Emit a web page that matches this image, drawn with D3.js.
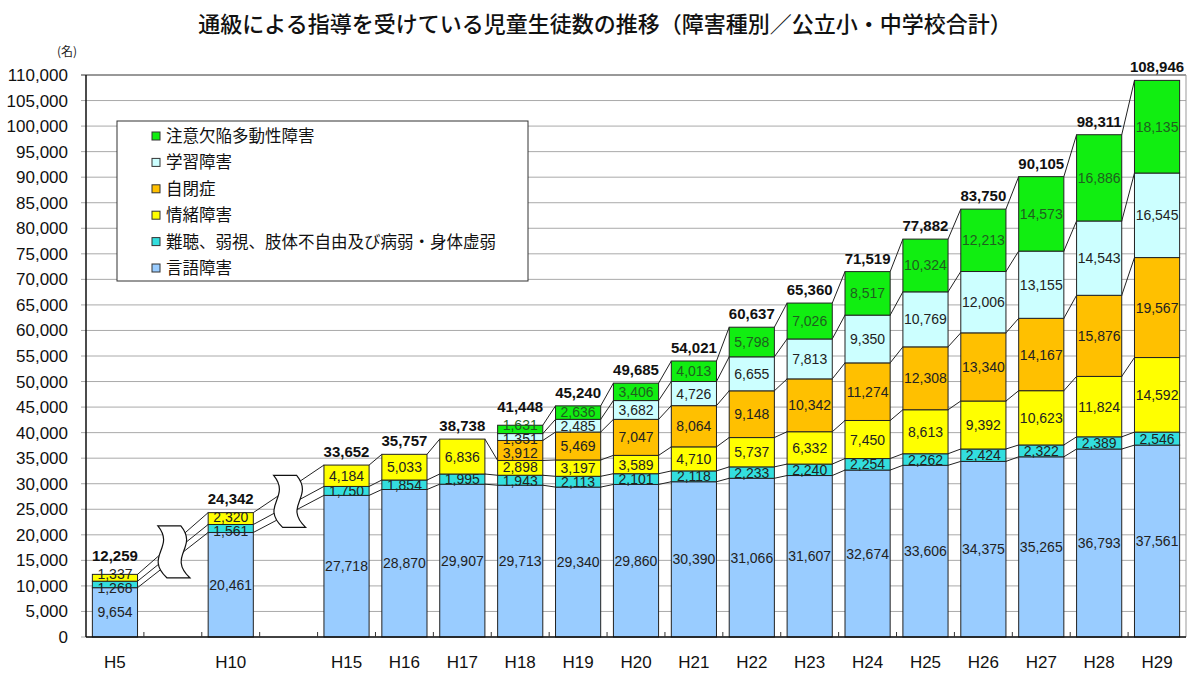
<!DOCTYPE html>
<html>
<head>
<meta charset="utf-8">
<title>通級による指導を受けている児童生徒数の推移</title>
<script src="https://d3js.org/d3.v7.min.js"></script>
<style>
  body { margin: 0; background: #fff; }
  text { font-family: "Liberation Sans", Arial, sans-serif; }
  .jp { font-family: "Noto Sans CJK JP", "Noto Sans", sans-serif; }
</style>
</head>
<body>
<svg id="chart" width="1200" height="680"></svg>
<script>
// x slots: gaps between H5, H10 and H15 are empty slots
var slots = ["H5", "gap1", "H10", "gap2", "H15", "H16", "H17", "H18", "H19", "H20",
             "H21", "H22", "H23", "H24", "H25", "H26", "H27", "H28", "H29"]
var years = ["H5", "H10", "H15", "H16", "H17", "H18", "H19", "H20",
             "H21", "H22", "H23", "H24", "H25", "H26", "H27", "H28", "H29"]

var speech    = [9654, 20461, 27718, 28870, 29907, 29713, 29340, 29860, 30390, 31066, 31607, 32674, 33606, 34375, 35265, 36793, 37561]
var hearing   = [1268, 1561, 1750, 1854, 1995, 1943, 2113, 2101, 2118, 2233, 2240, 2254, 2262, 2424, 2322, 2389, 2546]
var emotional = [1337, 2320, 4184, 5033, 6836, 2898, 3197, 3589, 4710, 5737, 6332, 7450, 8613, 9392, 10623, 11824, 14592]
var autism    = [null, null, null, null, null, 3912, 5469, 7047, 8064, 9148, 10342, 11274, 12308, 13340, 14167, 15876, 19567]
var ld        = [null, null, null, null, null, 1351, 2485, 3682, 4726, 6655, 7813, 9350, 10769, 12006, 13155, 14543, 16545]
var adhd      = [null, null, null, null, null, 1631, 2636, 3406, 4013, 5798, 7026, 8517, 10324, 12213, 14573, 16886, 18135]

// bottom to top
var seriesNames = ["言語障害", "難聴、弱視、肢体不自由及び病弱・身体虚弱", "情緒障害", "自閉症", "学習障害", "注意欠陥多動性障害"]
var seriesData = [speech, hearing, emotional, autism, ld, adhd]
var colors = ["#99ccff", "#33dede", "#ffff00", "#ffc000", "#ccffff", "#11ee11"]
var labelColors = ["#222", "#222", "#222", "#222", "#222", "#1f5f1f"]

var yTicks = d3.range(0, 110001, 5000)

var svg = d3.select("#chart")
var margin = {left: 86, right: 1186, top: 75, bottom: 637}

var x = d3.scaleBand().domain(slots).range([margin.left, margin.right])
  .paddingInner(0.22).paddingOuter(0.11)
var y = d3.scaleLinear().domain([0, 110000]).range([margin.bottom, margin.top])
var bw = x.bandwidth()
var fmt = d3.format(",")

// build stacked rows
var rows = years.map(function(yr, i) {
  var base = 0
  var segs = []
  seriesData.forEach(function(arr, k) {
    var v = arr[i]
    if (v != null) {
      segs.push({year: yr, k: k, v: v, y0: base, y1: base + v})
      base += v
    }
  })
  // label centres, pushed apart where segments are too thin
  segs.forEach(s => s.ly = (y(s.y0) + y(s.y1)) / 2)
  for (var it = 0; it < 30; it++) {
    for (var j = 0; j < segs.length - 1; j++) {
      var lo = segs[j], hi = segs[j + 1]
      var gap = lo.ly - hi.ly
      if (gap < 14) {
        var d = (14 - gap) / 2
        lo.ly += d
        hi.ly -= d
      }
    }
  }
  var topLabel = segs[segs.length - 1].ly
  return {year: yr, segs: segs, total: base,
          ty: Math.min(y(base) - 8, topLabel - 13)}
})

// title
svg.append("text").attr("class", "jp")
  .attr("x", 605).attr("y", 32).attr("text-anchor", "middle")
  .attr("font-size", 22).attr("font-weight", 500).attr("fill", "#111")
  .text("通級による指導を受けている児童生徒数の推移（障害種別／公立小・中学校合計）")

svg.append("text").attr("class", "jp")
  .attr("x", 67).attr("y", 56).attr("text-anchor", "middle")
  .attr("font-size", 12).attr("fill", "#222").text("(名)")

// grid
svg.append("g").selectAll("line").data(yTicks).enter().append("line")
  .attr("x1", margin.left - 5).attr("x2", margin.right)
  .attr("y1", d => y(d)).attr("y2", d => y(d))
  .attr("stroke", d => d == 110000 ? "#333" : "#aaa").attr("stroke-width", 1)
svg.append("line").attr("x1", margin.right).attr("x2", margin.right)
  .attr("y1", margin.top).attr("y2", margin.bottom).attr("stroke", "#999")

// y axis labels
svg.append("g").selectAll("text").data(yTicks).enter().append("text")
  .attr("x", 68).attr("y", d => y(d) + 6).attr("text-anchor", "end")
  .attr("font-size", 17).attr("fill", "#111")
  .text(d => fmt(d))

// series lines
var lines = svg.append("g")
for (var i = 0; i < rows.length - 1; i++) {
  var a = rows[i], b = rows[i + 1]
  a.segs.forEach(function(sa) {
    var sb = b.segs.find(s => s.k == sa.k)
    if (!sb) return
    lines.append("line")
      .attr("x1", x(a.year) + bw).attr("y1", y(sa.y1))
      .attr("x2", x(b.year)).attr("y2", y(sb.y1))
      .attr("stroke", "#222").attr("stroke-width", 1)
  })
}

// break symbols drawn over the lines in the gap slots
function breakPath(cx, cy) {
  var h = 26
  return "M" + (cx - 15) + "," + (cy - h) +
    " L" + (cx + 8) + "," + (cy - h) +
    " C" + (cx + 26) + "," + (cy - 4) + " " + (cx - 6) + "," + (cy + 4) + " " + (cx + 17) + "," + (cy + h) +
    " L" + (cx - 6) + "," + (cy + h) +
    " C" + (cx - 29) + "," + (cy + 4) + " " + (cx + 3) + "," + (cy - 4) + " " + (cx - 15) + "," + (cy - h) + " Z"
}
[["gap1", 0, 1], ["gap2", 1, 2]].forEach(function(g) {
  var a = rows[g[1]], b = rows[g[2]]
  var lo = (a.segs[0].y1 + b.segs[0].y1) / 2
  var hi = (a.total + b.total) / 2
  var cx = x(g[0]) + bw / 2
  var cy = (y(lo) + y(hi)) / 2
  svg.append("path").attr("d", breakPath(cx, cy))
    .attr("fill", "#fff").attr("stroke", "#111").attr("stroke-width", 1.2)
})

// bars
var bars = svg.append("g").selectAll("g").data(rows).enter().append("g")
bars.selectAll("rect").data(d => d.segs).enter()
  .append("rect")
  .attr("x", d => x(d.year)).attr("width", bw)
  .attr("y", d => y(d.y1)).attr("height", d => y(d.y0) - y(d.y1))
  .attr("fill", d => colors[d.k]).attr("stroke", "#222").attr("stroke-width", 1)

// segment labels
bars.selectAll("text.seg").data(d => d.segs).enter()
  .append("text").attr("class", "seg")
  .attr("x", d => x(d.year) + bw / 2)
  .attr("y", d => d.ly + 5)
  .attr("text-anchor", "middle").attr("font-size", 14)
  .attr("fill", d => labelColors[d.k])
  .text(d => fmt(d.v))

// totals
bars.append("text")
  .attr("x", d => x(d.year) + bw / 2).attr("y", d => d.ty)
  .attr("text-anchor", "middle").attr("font-size", 15).attr("font-weight", "bold")
  .attr("fill", "#111")
  .text(d => fmt(d.total))

// axes lines
svg.append("line").attr("x1", margin.left).attr("x2", margin.left)
  .attr("y1", margin.top).attr("y2", margin.bottom).attr("stroke", "#111").attr("stroke-width", 1.5)
svg.append("line").attr("x1", margin.left).attr("x2", margin.right)
  .attr("y1", margin.bottom).attr("y2", margin.bottom).attr("stroke", "#111").attr("stroke-width", 1.5)

// x ticks at slot boundaries, inward
var step = x.step()
svg.append("g").selectAll("line").data(d3.range(1, slots.length)).enter().append("line")
  .attr("x1", d => margin.left + d * step).attr("x2", d => margin.left + d * step)
  .attr("y1", margin.bottom).attr("y2", margin.bottom - 5)
  .attr("stroke", "#333")

svg.append("g").selectAll("text").data(years).enter().append("text")
  .attr("x", d => x(d) + bw / 2).attr("y", 668).attr("text-anchor", "middle")
  .attr("font-size", 17).attr("fill", "#111")
  .text(d => d)

// legend (top series first)
var legend = svg.append("g")
legend.append("rect").attr("x", 117).attr("y", 121).attr("width", 411).attr("height", 160)
  .attr("fill", "#fff").attr("stroke", "#333").attr("stroke-width", 1)
var order = d3.range(seriesNames.length).reverse()
var items = legend.selectAll("g").data(order).enter().append("g")
  .attr("transform", (d, i) => "translate(152," + (136 + i * 26.4) + ")")
items.append("rect").attr("x", 0).attr("y", -4).attr("width", 8).attr("height", 8)
  .attr("fill", d => colors[d]).attr("stroke", "#333").attr("stroke-width", 1)
items.append("text").attr("class", "jp").attr("x", 14).attr("y", 6)
  .attr("font-size", 16.5).attr("fill", "#111")
  .text(d => seriesNames[d])
</script>
</body>
</html>
